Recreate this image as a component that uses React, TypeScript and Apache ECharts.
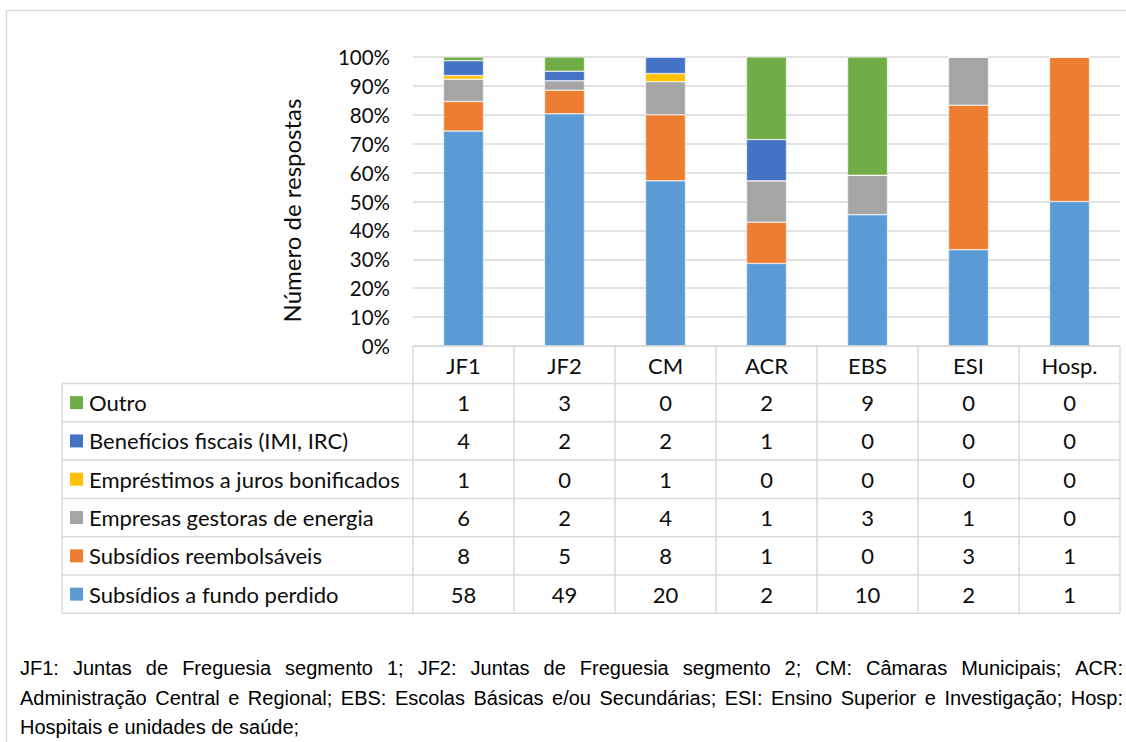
import React, { useEffect, useRef } from "react";
import * as echarts from "echarts";

// ---- data ----
const categories = ["JF1", "JF2", "CM", "ACR", "EBS", "ESI", "Hosp."];
const fundoPerdido = [58, 49, 20, 2, 10, 2, 1];
const reembolsaveis = [8, 5, 8, 1, 0, 3, 1];
const gestorasEnergia = [6, 2, 4, 1, 3, 1, 0];
const emprestimos = [1, 0, 1, 0, 0, 0, 0];
const beneficiosFiscais = [4, 2, 2, 1, 0, 0, 0];
const outro = [1, 3, 0, 2, 9, 0, 0];

const seriesNames = [
  "Subsídios a fundo perdido",
  "Subsídios reembolsáveis",
  "Empresas gestoras de energia",
  "Empréstimos a juros bonificados",
  "Benefícios fiscais (IMI, IRC)",
  "Outro",
];
const seriesValues = [fundoPerdido, reembolsaveis, gestorasEnergia, emprestimos, beneficiosFiscais, outro];
const seriesColors = ["#5B9BD5", "#ED7D31", "#A5A5A5", "#FFC000", "#4472C4", "#70AD47"];
const yAxisTitle = "Número de respostas";

const footnoteLines = [
  "JF1: Juntas de Freguesia segmento 1; JF2: Juntas de Freguesia segmento 2; CM: Câmaras Municipais; ACR:",
  "Administração Central e Regional; EBS: Escolas Básicas e/ou Secundárias; ESI: Ensino Superior e Investigação; Hosp:",
  "Hospitais e unidades de saúde;",
];

const FONT = "Lato, 'Open Sans', sans-serif";
const TEXT_COLOR = "#0d0d0d";
const LINE_COLOR = "#d9d9d9";
const FOOT_FONT_FAMILY = "'Liberation Sans', Arial, sans-serif";
const FOOT_FONT_SIZE = 20;
const TABLE_FONT_SIZE = 22;

export default function App() {
  const ref = useRef<HTMLDivElement>(null);

  useEffect(() => {
    const el = ref.current!;
    const chart = echarts.init(el, null, { renderer: "svg" });

    const totals = categories.map((_, i) => seriesValues.reduce((s, arr) => s + arr[i], 0));

    chart.setOption({
      animation: false,
      backgroundColor: "#ffffff",
      grid: { left: 413, right: 6, top: 57, bottom: 396, containLabel: false },
      xAxis: {
        type: "category",
        data: categories,
        axisLine: { show: false },
        axisTick: { show: false },
        axisLabel: {
          interval: 0,
          margin: 19.5,
          verticalAlign: "middle",
          fontFamily: FONT,
          fontSize: TABLE_FONT_SIZE,
          color: TEXT_COLOR,
        },
      },
      yAxis: {
        type: "value",
        min: 0,
        max: 100,
        interval: 10,
        axisLine: { show: false },
        axisTick: { show: false },
        axisLabel: {
          formatter: "{value}%",
          margin: 23,
          fontFamily: FONT,
          fontSize: 20.5,
          color: TEXT_COLOR,
        },
        splitLine: { lineStyle: { color: LINE_COLOR, width: 1.5 } },
      },
      series: seriesValues.map((vals, k) => ({
        name: seriesNames[k],
        type: "bar",
        stack: "total",
        barWidth: 40,
        data: vals.map((v, i) => (v / totals[i]) * 100),
        itemStyle: { color: seriesColors[k], borderColor: "#ffffff", borderWidth: 0.5 },
      })),
    });

    // ---- table, titles and footnote laid out from the axes ----
    const c0 = chart.convertToPixel({ xAxisIndex: 0 }, 0) as number;
    const c1 = chart.convertToPixel({ xAxisIndex: 0 }, 1) as number;
    const band = c1 - c0;
    const tableLeft = c0 - band / 2;
    const tableRight = tableLeft + band * categories.length;
    const yZero = chart.convertToPixel({ yAxisIndex: 0 }, 0) as number;
    const yTop = chart.convertToPixel({ yAxisIndex: 0 }, 100) as number;
    const headerH = 37.5;
    const rowH = 38.3;
    const legendLeft = 62;
    const rowsTop = yZero + headerH;
    const tableRows = [5, 4, 3, 2, 1, 0]; // top to bottom in the data table
    const tableBottom = rowsTop + rowH * tableRows.length;

    const g: any[] = [];
    // outer chart frame
    g.push({
      type: "rect",
      shape: { x: 6.5, y: 10.5, width: 1200, height: 800 },
      style: { fill: "none", stroke: LINE_COLOR, lineWidth: 1.5 },
      z: -10,
      silent: true,
    });
    // y-axis title
    g.push({
      type: "text",
      x: 291,
      y: (yTop + yZero) / 2 + 9,
      rotation: Math.PI / 2,
      style: {
        text: yAxisTitle,
        fontFamily: FONT,
        fontSize: 24,
        fill: TEXT_COLOR,
        textAlign: "center",
        textVerticalAlign: "middle",
      },
    });
    const hLine = (x1: number, x2: number, y: number) =>
      g.push({
        type: "line",
        shape: { x1, y1: y, x2, y2: y },
        style: { stroke: LINE_COLOR, lineWidth: 1.5 },
        z: 5,
      });
    const vLine = (x: number, y1: number, y2: number) =>
      g.push({
        type: "line",
        shape: { x1: x, y1, x2: x, y2 },
        style: { stroke: LINE_COLOR, lineWidth: 1.5 },
        z: 5,
      });
    // header top border
    hLine(tableLeft, tableRight, yZero);
    for (let r = 0; r <= tableRows.length; r++) hLine(legendLeft, tableRight, rowsTop + r * rowH);
    vLine(legendLeft, rowsTop, tableBottom);
    for (let i = 0; i <= categories.length; i++) vLine(tableLeft + i * band, yZero, tableBottom);

    tableRows.forEach((k, r) => {
      const cy = rowsTop + r * rowH + rowH / 2;
      g.push({
        type: "rect",
        shape: { x: 70, y: cy - 6.5, width: 13, height: 13 },
        style: { fill: seriesColors[k] },
        z: 6,
      });
      g.push({
        type: "text",
        x: 89,
        y: cy,
        style: {
          text: seriesNames[k],
          fontFamily: FONT,
          fontSize: TABLE_FONT_SIZE,
          fill: TEXT_COLOR,
          textAlign: "left",
          textVerticalAlign: "middle",
        },
        z: 6,
      });
      categories.forEach((_, i) => {
        g.push({
          type: "text",
          x: chart.convertToPixel({ xAxisIndex: 0 }, i) as number,
          y: cy,
          style: {
            text: String(seriesValues[k][i]),
            fontFamily: FONT,
            fontSize: TABLE_FONT_SIZE,
            fill: TEXT_COLOR,
            textAlign: "center",
            textVerticalAlign: "middle",
          },
          z: 6,
        });
      });
    });

    // footnote (justified lines)
    const canvas = document.createElement("canvas");
    const ctx = canvas.getContext("2d")!;
    ctx.font = `${FOOT_FONT_SIZE}px ${FOOT_FONT_FAMILY}`;
    const spaceW = ctx.measureText(" ").width;
    const footLeft = 20;
    const footRight = 1123;
    const footY = [668, 698, 727];
    footnoteLines.forEach((line, li) => {
      const footStyle = {
        fontFamily: FOOT_FONT_FAMILY,
        fontSize: FOOT_FONT_SIZE,
        fill: "#000000",
        textAlign: "left",
        textVerticalAlign: "middle",
      };
      if (li === footnoteLines.length - 1) {
        g.push({ type: "text", x: footLeft, y: footY[li], style: { ...footStyle, text: line } });
        return;
      }
      const words = line.split(" ");
      const widths = words.map((w) => ctx.measureText(w).width);
      const sum = widths.reduce((a, b) => a + b, 0);
      const target = footRight - footLeft;
      const natural = sum + spaceW * 0.8 * (words.length - 1);
      let scale = 1;
      let gap: number;
      if (natural <= target) {
        gap = (target - sum) / (words.length - 1);
      } else {
        scale = target / natural;
        gap = spaceW * 0.8 * scale;
      }
      let x = footLeft;
      words.forEach((w, wi) => {
        g.push({
          type: "text",
          x,
          y: footY[li],
          scaleX: scale,
          style: { ...footStyle, text: w },
        });
        x += widths[wi] * scale + gap;
      });
    });

    chart.setOption({ graphic: g });

    return () => chart.dispose();
  }, []);

  return (
    <div
      ref={ref}
      style={{ position: "fixed", left: 0, top: 0, width: 1126, height: 742, background: "#ffffff" }}
    />
  );
}
